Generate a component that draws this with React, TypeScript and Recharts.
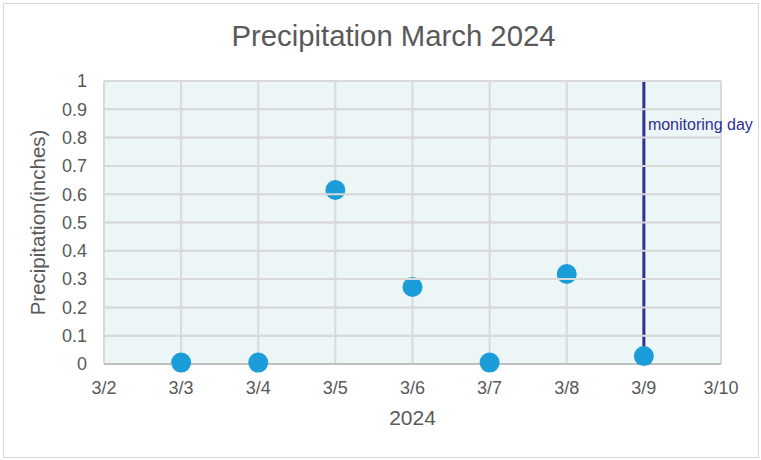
import { ScatterChart, Scatter, XAxis, YAxis, CartesianGrid, ReferenceLine } from "recharts";

// days of March 2024
const days = [3, 4, 5, 6, 7, 8, 9];
const precipitation = [0.005, 0.005, 0.615, 0.272, 0.005, 0.318, 0.028];
const xTicks = [2, 3, 4, 5, 6, 7, 8, 9, 10];
const yTicks = [0, 0.1, 0.2, 0.3, 0.4, 0.5, 0.6, 0.7, 0.8, 0.9, 1];
const monitoringDay = 9;

const data = days.map((d, i) => ({ day: d, value: precipitation[i] }));

const FONT = "Liberation Sans, Arial, sans-serif";
const tickStyle = { fill: "#595959", fontSize: 18, fontFamily: FONT };

const MonitoringLabel = (props: any) => {
  const vb = props.viewBox || {};
  return (
    <text x={vb.x + 4} y={vb.y + 49} fill="#2E3192" fontSize={16} fontFamily={FONT}>
      monitoring day
    </text>
  );
};

export default function App() {
  return (
    <div style={{ position: "absolute", left: 0, top: 0, width: 761, height: 460, background: "#fff" }}>
      <div
        style={{
          position: "absolute",
          left: 3,
          top: 3,
          width: 756,
          height: 455,
          border: "1px solid #d9d9d9",
          boxSizing: "border-box",
        }}
      />
      <div
        style={{
          position: "absolute",
          left: 0,
          top: 19,
          width: 787,
          textAlign: "center",
          fontSize: 29.3,
          color: "#595959",
          fontFamily: FONT,
        }}
      >
        Precipitation March 2024
      </div>
      <div style={{ position: "absolute", left: 0, top: 0 }}>
        <ScatterChart width={761} height={460} margin={{ top: 81, right: 40, left: 0, bottom: 0 }}>
          <CartesianGrid stroke="#d9d9d9" strokeWidth={2} fill="#EDF6F7" />
          <XAxis
            type="number"
            dataKey="day"
            domain={[2, 10]}
            ticks={xTicks}
            tickFormatter={(d: number) => `3/${d}`}
            tick={tickStyle}
            tickLine={false}
            tickSize={0}
            tickMargin={17}
            axisLine={{ stroke: "#bfbfbf", strokeWidth: 2 }}
            height={96}
            label={{
              value: "2024",
              position: "insideTop",
              offset: 46,
              fill: "#595959",
              fontSize: 21,
              fontFamily: FONT,
            }}
          />
          <YAxis
            type="number"
            dataKey="value"
            domain={[0, 1]}
            ticks={yTicks}
            tick={tickStyle}
            tickLine={false}
            tickSize={0}
            tickMargin={17}
            axisLine={false}
            width={104}
            label={{
              value: "Precipitation(inches)",
              angle: -90,
              position: "insideLeft",
              offset: 38,
              fill: "#595959",
              fontSize: 20.5,
              fontFamily: FONT,
              style: { textAnchor: "middle" },
            }}
          />
          <ReferenceLine x={monitoringDay} stroke="#2E3192" strokeWidth={3} label={<MonitoringLabel />} />
          <Scatter
            data={data}
            fill="#1B9DD9"
            shape={(p: any) => <circle cx={p.cx} cy={p.cy} r={10} fill="#1B9DD9" />}
            isAnimationActive={false}
          />
          {/* horizontal gridlines (not the zero line) sit over the markers, as in the original */}
          <CartesianGrid
            stroke="#d9d9d9"
            strokeWidth={2}
            fill="none"
            vertical={false}
            horizontalValues={yTicks.slice(1)}
            {...({ zIndex: 2000 } as any)}
          />
        </ScatterChart>
      </div>
    </div>
  );
}
